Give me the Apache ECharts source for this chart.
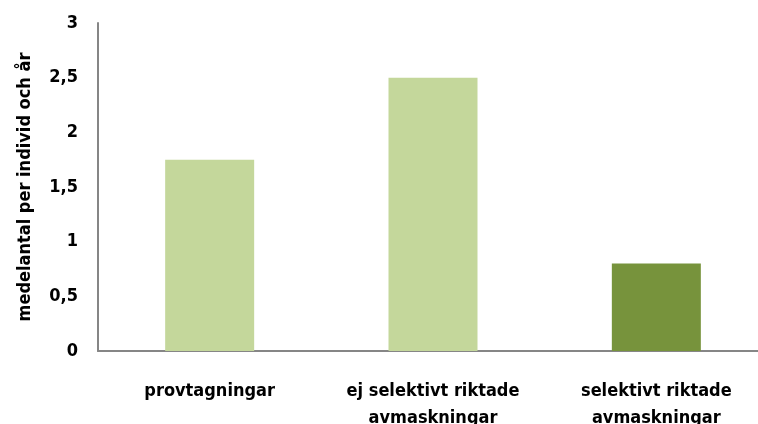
<!DOCTYPE html>
<html>
<head>
<meta charset="utf-8">
<script src="https://cdn.jsdelivr.net/npm/echarts@6/dist/echarts.min.js"></script>
<style>
  html, body { margin: 0; padding: 0; background: #fff; }
  #chart { width: 758px; height: 424px; }
</style>
</head>
<body>
<div id="chart"></div>
<script>
// Categories and values: average count per individual and year
const categories = ['provtagningar', 'ej selektivt riktade\navmaskningar', 'selektivt riktade\navmaskningar'];
const values = [1.75, 2.5, 0.8];
const barColors = ['#c4d79b', '#c4d79b', '#77933c'];
const yTicks = [0, 0.5, 1, 1.5, 2, 2.5, 3];

const font = '"DejaVu Sans Condensed", sans-serif';

const chart = echarts.init(document.getElementById('chart'));
chart.setOption({
  animation: false,
  grid: { left: 98, right: -10, top: 23, bottom: 73, outerBoundsMode: 'none' },
  xAxis: {
    type: 'category',
    data: categories,
    axisLine: { lineStyle: { color: '#868686', width: 2 } },
    axisTick: { show: false },
    axisLabel: {
      color: '#000', fontFamily: font, fontWeight: 'bold', fontSize: 18,
      margin: 27, lineHeight: 27, interval: 0
    }
  },
  yAxis: {
    type: 'value',
    min: 0, max: 3, interval: 0.5,
    name: 'medelantal per individ och år',
    nameLocation: 'middle',
    nameGap: 64,
    nameTextStyle: { color: '#000', fontFamily: font, fontWeight: 'bold', fontSize: 18 },
    splitLine: { show: false },
    axisLine: { show: true, lineStyle: { color: '#868686', width: 2 } },
    axisTick: { show: false },
    axisLabel: {
      color: '#000', fontFamily: font, fontWeight: 'bold', fontSize: 18, margin: 20,
      formatter: v => yTicks.includes(v) ? String(v).replace('.', ',') : ''
    }
  },
  series: [{
    type: 'bar',
    barWidth: 89,
    data: values.map((v, i) => ({ value: v, itemStyle: { color: barColors[i] } }))
  }]
});
</script>
</body>
</html>
